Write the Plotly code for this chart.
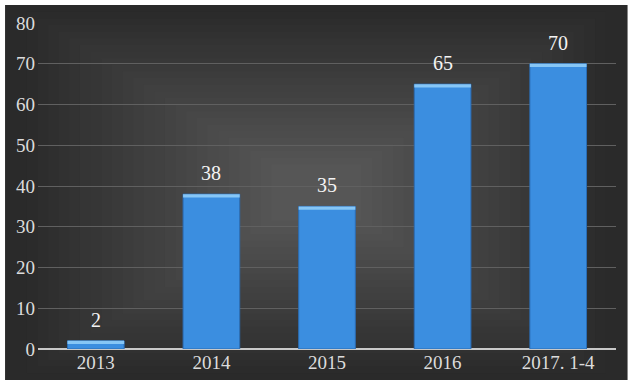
import plotly.graph_objects as go

categories = ["2013", "2014", "2015", "2016", "2017. 1-4"]
values = [2, 38, 35, 65, 70]
y_ticks = [0, 10, 20, 30, 40, 50, 60, 70, 80]

FONT = "Liberation Serif, DejaVu Serif, serif"
bevel = 0.8
fig = go.Figure()
fig.add_trace(go.Bar(
    x=categories, y=values, width=0.49,
    marker=dict(color="#3b8ee0", line=dict(color="#2b6db5", width=1)),
    hoverinfo="skip",
))
fig.add_trace(go.Bar(
    x=categories, y=[bevel] * len(values), base=[v - bevel for v in values], width=0.49,
    marker=dict(color="#86c6f6", line=dict(width=0)), hoverinfo="skip",
))
for i, v in enumerate(values):
    fig.add_annotation(x=i, y=v, text=str(v), showarrow=False, yanchor="bottom", yshift=8,
                       font=dict(family=FONT, size=20, color="#f4f4f4"))

# dark background panel with a soft vignette
shapes = [dict(type="rect", xref="paper", yref="paper", x0=-0.057, x1=1.02, y0=-0.095, y1=1.055,
               fillcolor="#2a2a2a", line=dict(width=0), layer="below")]
n = 24
for i in range(1, n + 1):
    d = i / n
    g = int(0x2a + (0x56 - 0x2a) * d)
    col = "#%02x%02x%02x" % (g, g, g)
    hx = (1.0385) * (1 - d * 0.85) / 2
    hy = (1.15) * (1 - d * 0.85) / 2
    x0c = (-0.057 + 1.02) / 2
    y0c = (-0.095 + 1.055) / 2
    shapes.append(dict(type="rect", xref="paper", yref="paper",
                       x0=x0c - hx, x1=x0c + hx, y0=y0c - hy, y1=y0c + hy,
                       fillcolor=col, line=dict(width=0), layer="below"))
fig.update_layout(
    shapes=shapes,
    barmode="overlay",
    showlegend=False,
    width=640, height=385,
    margin=dict(l=38, r=24, t=23, b=36),
    paper_bgcolor="white", plot_bgcolor="rgba(0,0,0,0)",
    xaxis=dict(type="category", showgrid=False, showline=False, zeroline=False, ticks="",
               tickfont=dict(family=FONT, size=19, color="#dcdcdc")),
    yaxis=dict(range=[0, 80], tickvals=y_ticks, showgrid=True, gridcolor="#606060", gridwidth=1,
               zeroline=True, zerolinecolor="#c8c8c8", zerolinewidth=2, ticks="", ticklabelstandoff=2,
               tickfont=dict(family=FONT, size=19, color="#dcdcdc")),
)
fig.write_html("out.html")
